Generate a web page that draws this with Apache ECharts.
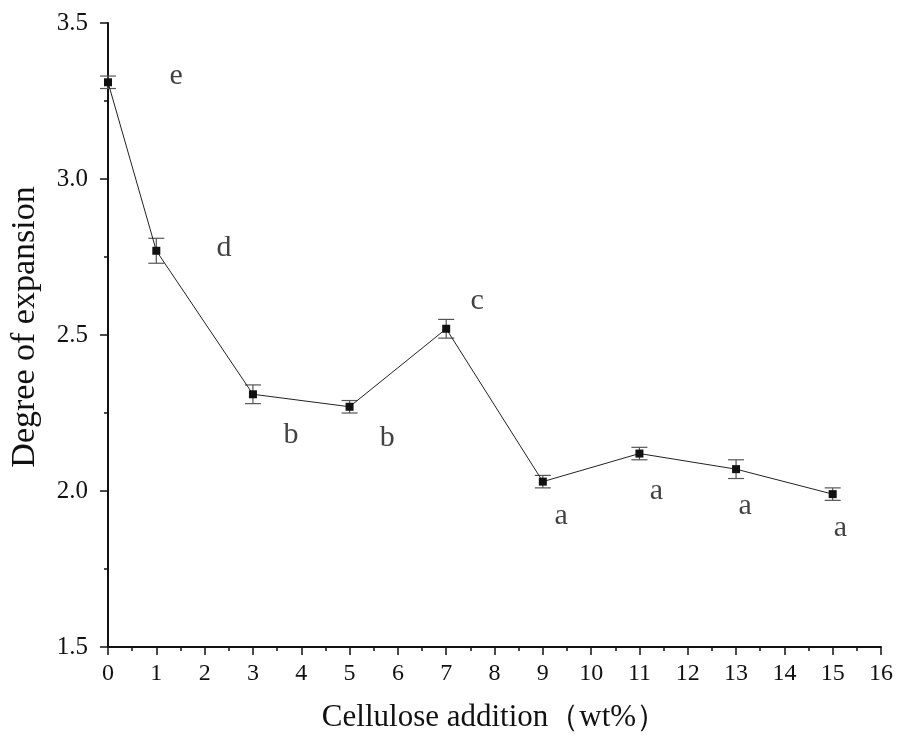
<!DOCTYPE html>
<html><head><meta charset="utf-8">
<script src="https://cdn.jsdelivr.net/npm/echarts@6/dist/echarts.min.js"></script>
<style>html,body{margin:0;padding:0;background:#fff}#c{width:897px;height:738px}</style>
</head><body><div id="c"></div>
<script>
var xValues = [0, 1, 3, 5, 7, 9, 11, 13, 15];
var yValues = [3.31, 2.77, 2.31, 2.27, 2.52, 2.03, 2.12, 2.07, 1.99];
var yErrors = [0.02, 0.04, 0.03, 0.02, 0.03, 0.02, 0.02, 0.03, 0.02];
var letters = ['e', 'd', 'b', 'b', 'c', 'a', 'a', 'a', 'a'];
var letterX = [1.41, 2.4, 3.79, 5.78, 7.64, 9.38, 11.35, 13.19, 15.16];
var letterY = [3.33, 2.78, 2.18, 2.17, 2.61, 1.92, 2.0, 1.95, 1.88];

var serif = '"Liberation Serif","DejaVu Serif","Times New Roman",serif';
var pts = xValues.map(function (x, i) { return [x, yValues[i]]; });
var errData = xValues.map(function (x, i) { return [x, yValues[i] - yErrors[i], yValues[i] + yErrors[i]]; });
var letterData = letterX.map(function (x, i) { return [x, letterY[i], letters[i]]; });

var chart = echarts.init(document.getElementById('c'));
chart.setOption({
  animation: false,
  backgroundColor: '#fff',
  grid: { left: 108, top: 23, right: 16, bottom: 91, containLabel: false, outerBoundsMode: 'none' },
  xAxis: {
    type: 'value', min: 0, max: 16, interval: 1,
    name: 'Cellulose addition（wt%）', nameLocation: 'middle', nameGap: 55,
    nameTextStyle: { fontFamily: serif, fontSize: 31, color: '#111' },
    axisLine: { show: true, lineStyle: { color: '#111', width: 2 } },
    axisTick: { show: true, length: 8, lineStyle: { color: '#111', width: 1.5 } },
    minorTick: { show: true, splitNumber: 2, length: 4, lineStyle: { color: '#111', width: 1.5 } },
    axisLabel: { fontFamily: serif, fontSize: 24, color: '#111', margin: 15 },
    splitLine: { show: false }
  },
  yAxis: {
    type: 'value', min: 1.5, max: 3.5, interval: 0.5,
    name: 'Degree of expansion', nameLocation: 'middle', nameGap: 66,
    nameTextStyle: { fontFamily: serif, fontSize: 34, color: '#111', padding: [0, 0, 0, 16] },
    axisLine: { show: true, lineStyle: { color: '#111', width: 2 } },
    axisTick: { show: true, length: 8, lineStyle: { color: '#111', width: 1.5 } },
    minorTick: { show: true, splitNumber: 2, length: 4, lineStyle: { color: '#111', width: 1.5 } },
    axisLabel: { fontFamily: serif, fontSize: 25, color: '#111', margin: 20,
      formatter: function (v) { return v.toFixed(1); } },
    splitLine: { show: false }
  },
  series: [
    {
      type: 'line', data: pts, symbol: 'rect', symbolSize: 8,
      lineStyle: { color: '#222', width: 1 },
      itemStyle: { color: '#111' }, z: 3
    },
    {
      type: 'custom', data: errData, z: 2,
      renderItem: function (params, api) {
        var x = api.value(0);
        var lo = api.coord([x, api.value(1)]);
        var hi = api.coord([x, api.value(2)]);
        var w = 8;
        var st = { stroke: '#555', lineWidth: 1.2 };
        return { type: 'group', children: [
          { type: 'line', shape: { x1: lo[0], y1: lo[1], x2: hi[0], y2: hi[1] }, style: st },
          { type: 'line', shape: { x1: lo[0] - w, y1: lo[1], x2: lo[0] + w, y2: lo[1] }, style: st },
          { type: 'line', shape: { x1: hi[0] - w, y1: hi[1], x2: hi[0] + w, y2: hi[1] }, style: st }
        ]};
      }
    },
    {
      type: 'scatter', data: letterData, symbolSize: 0, z: 4,
      label: { show: true, position: 'inside', formatter: function (p) { return p.value[2]; },
        fontFamily: serif, fontSize: 30, color: '#111' }
    }
  ]
});
</script></body></html>
